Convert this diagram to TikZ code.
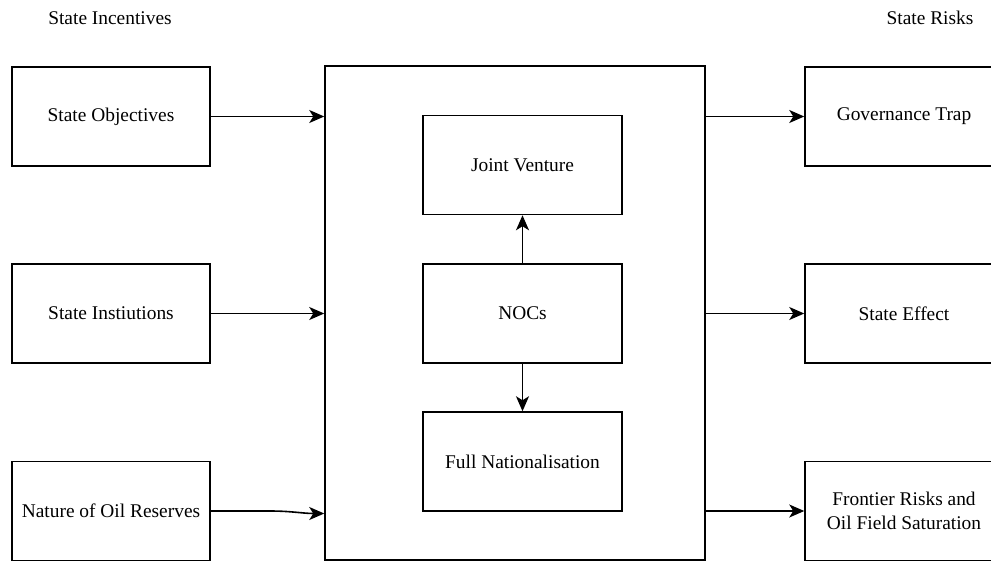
\documentclass[tikz,border=0pt]{standalone}
\usepackage{fontspec}
\setmainfont{Liberation Serif}
\usetikzlibrary{arrows.meta}
\begin{document}
\begin{tikzpicture}[x=1pt,y=-1pt,
  box/.style={draw, line width=1.5pt, align=center, inner sep=0pt, font=\fontsize{19.4}{24}\selectfont, minimum width=198pt, minimum height=99pt},
  lbl/.style={font=\fontsize{19.4}{24}\selectfont, inner sep=0pt},
  arr/.style={-{Stealth[length=15pt,width=13pt,inset=4pt]}, line width=1.6pt}]
\useasboundingbox (0,0) rectangle (991,563);
\clip (0,0) rectangle (991,563);
\node[lbl] (hin) at (110,18) {State Incentives};
\node[lbl] (hri) at (930,18) {State Risks};
% left
\node[box] (so) at (111,116.5) {State Objectives};
\node[box] (si) at (111,313.5) {State Instiutions};
\node[box] (nr) at (111,511) {Nature of Oil Reserves};
% center
\node[box, minimum width=380pt, minimum height=494pt] (big) at (515,313) {};
\node[box, minimum width=199pt] (jv) at (522.5,165) {Joint Venture};
\node[box, minimum width=199pt] (noc) at (522.5,313.5) {NOCs};
\node[box, minimum width=199pt] (fn) at (522.5,461.5) {Full Nationalisation};
% right
\node[box] (gt) at (904,116.5) {Governance Trap};
\node[box] (se) at (904,313.5) {State Effect};
\node[box] (fr) at (904,511) {Frontier Risks and\\Oil Field Saturation};
% arrows
\draw[arr] (so.east) -- (so.east -| big.west);
\draw[arr] (si.east) -- (si.east -| big.west);
\coordinate (e3) at (big.west |- 0,513.5);
\draw[arr] (nr.east) -- (270,511) to[out=0,in=180] (e3);
\draw[arr] (gt.west -| big.east) -- (gt.west);
\draw[arr] (se.west -| big.east) -- (se.west);
\draw[arr] (fr.west -| big.east) -- (fr.west);
\draw[arr] (noc.north) -- (jv.south);
\draw[arr] (noc.south) -- (fn.north);
\end{tikzpicture}
\end{document}
